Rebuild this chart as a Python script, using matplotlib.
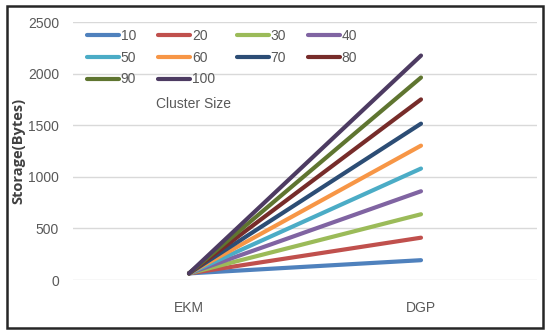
"""Storage (Bytes) of EKM vs DGP per cluster size."""
import matplotlib
matplotlib.use("Agg")
import matplotlib.pyplot as plt
from matplotlib.patches import Rectangle
import numpy as np

CATEGORIES = ["EKM", "DGP"]
CLUSTER_SIZES = [10, 20, 30, 40, 50, 60, 70, 80, 90, 100]
EKM = [64, 64, 64, 64, 64, 64, 64, 64, 64, 64]
DGP = [192, 410, 637, 860, 1080, 1302, 1515, 1750, 1962, 2175]
COLORS = ["#4F81BD", "#C0504D", "#9BBB59", "#8064A2", "#4BACC6",
          "#F79646", "#2C4D75", "#772C2A", "#5F7530", "#4D3B62"]

plt.rcParams["font.family"] = ["Liberation Sans", "DejaVu Sans"]

fig = plt.figure(figsize=(5.5, 3.34), dpi=100)
ax = fig.add_axes([73 / 550, 1 - 280 / 334, 464 / 550, 258 / 334])

x = np.arange(len(CATEGORIES))
lines = []
for size, a, b, c in zip(CLUSTER_SIZES, EKM, DGP, COLORS):
    ln, = ax.plot(x, [a, b], color=c, lw=3.0, solid_capstyle="round",
                  label=str(size))
    lines.append(ln)

ax.set_xlim(-0.5, 1.5)
ax.set_ylim(0, 2500)
ax.set_yticks(range(0, 2501, 500))
ax.set_xticks(x)
ax.set_xticklabels(CATEGORIES)
ax.tick_params(length=0, labelsize=10, labelcolor="#595959")
ax.tick_params(axis="x", pad=15)
ax.tick_params(axis="y", pad=10)
ax.grid(axis="y", color="#D9D9D9", lw=1.0)
ax.set_axisbelow(True)
for s in ax.spines.values():
    s.set_visible(False)

fig.text(18 / 550, 1 - 151 / 334, "Storage(Bytes)", rotation=90,
         ha="center", va="center", fontsize=10.5, fontweight="bold",
         color="#404040", family="Open Sans")

# row-major legend order for 4 columns
order = [0, 4, 8, 1, 5, 9, 2, 6, 3, 7]
leg = ax.legend([lines[i] for i in order],
                [str(CLUSTER_SIZES[i]) for i in order],
                ncol=4, loc="upper left", bbox_to_anchor=(0.01, 1.01),
                frameon=False, fontsize=10, handlelength=2.3,
                handletextpad=0.1, columnspacing=1.6, labelspacing=0.55,
                borderaxespad=0.3)
for t in leg.get_texts():
    t.set_color("#595959")
fig.text(193 / 550, 1 - 104 / 334, "Cluster Size", ha="center",
         va="center", fontsize=10, color="#595959")

fig.patches.append(Rectangle((7 / 550, 6 / 334), 536 / 550, 322 / 334,
                             transform=fig.transFigure, fill=False,
                             edgecolor="#262626", lw=1.8))

fig.savefig("out.png", dpi=100)
